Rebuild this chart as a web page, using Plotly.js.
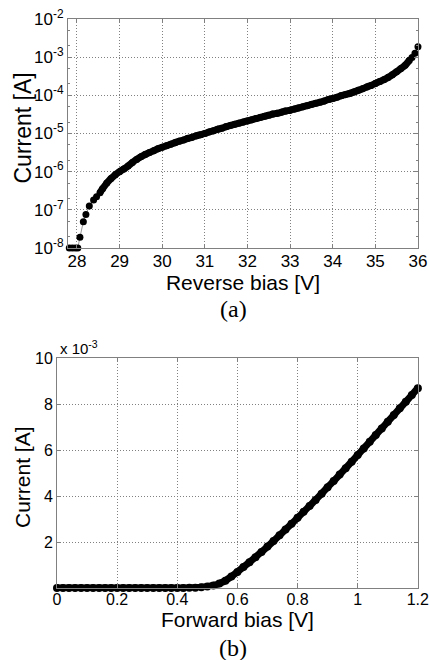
<!DOCTYPE html>
<html>
<head>
<meta charset="utf-8">
<script src="https://cdn.plot.ly/plotly-3.0.1.min.js"></script>
<style>html,body{margin:0;padding:0;background:#fff;}#chart{width:429px;height:660px;}</style>
</head>
<body>
<div id="chart"></div>
<script>
// (a) Reverse bias sweep
const reverseBias = [27.82, 27.89, 27.96, 28.02, 28.07, 28.15, 28.21, 28.29, 28.39, 28.46, 28.54,
  28.6, 28.7, 28.8, 28.9, 29.0, 29.1, 29.2, 29.3, 29.4, 29.5, 29.6, 29.7, 29.8, 29.9,
  30.0, 30.1, 30.2, 30.3, 30.4, 30.5, 30.6, 30.7, 30.8, 30.9,
  31.0, 31.1, 31.2, 31.3, 31.4, 31.5, 31.6, 31.7, 31.8, 31.9,
  32.0, 32.1, 32.2, 32.3, 32.4, 32.5, 32.6, 32.7, 32.8, 32.9,
  33.0, 33.1, 33.2, 33.3, 33.4, 33.5, 33.6, 33.7, 33.8, 33.9,
  34.0, 34.1, 34.2, 34.3, 34.4, 34.5, 34.6, 34.7, 34.8, 34.9,
  35.0, 35.1, 35.2, 35.3, 35.4, 35.5, 35.6, 35.7, 35.8, 35.86, 35.93, 36.0];
// log10 of current [A]
const reverseLog10Current = [-8, -8, -8, -8, -7.72, -7.31, -7.12, -6.90, -6.74, -6.66, -6.55,
  -6.45, -6.30, -6.18, -6.08, -6.00, -5.93, -5.85, -5.76, -5.68, -5.61, -5.55, -5.50, -5.45, -5.40,
  -5.36, -5.32, -5.28, -5.24, -5.20, -5.17, -5.13, -5.10, -5.06, -5.03,
  -5.00, -4.96, -4.93, -4.89, -4.86, -4.82, -4.79, -4.76, -4.73, -4.70,
  -4.67, -4.64, -4.61, -4.58, -4.55, -4.52, -4.49, -4.47, -4.44, -4.41,
  -4.39, -4.36, -4.33, -4.30, -4.27, -4.24, -4.21, -4.18, -4.15, -4.11,
  -4.08, -4.05, -4.01, -3.98, -3.95, -3.91, -3.87, -3.83, -3.78, -3.74,
  -3.69, -3.64, -3.59, -3.53, -3.46, -3.38, -3.30, -3.21, -3.08, -3.01, -2.90, -2.73];
const logTickVals = [1e-8, 1e-7, 1e-6, 1e-5, 1e-4, 1e-3, 1e-2];
const logTickText = ['10<sup>-8</sup>', '10<sup>-7</sup>', '10<sup>-6</sup>', '10<sup>-5</sup>', '10<sup>-4</sup>', '10<sup>-3</sup>', '10<sup>-2</sup>'];
const reverseTickVals = [28, 29, 30, 31, 32, 33, 34, 35, 36];

// (b) Forward bias sweep, current in units of 1e-3 A
const forwardBias = [0.00, 0.02, 0.04, 0.06, 0.08, 0.10, 0.12, 0.14, 0.16, 0.18, 0.20,
  0.22, 0.24, 0.26, 0.28, 0.30, 0.32, 0.34, 0.36, 0.38, 0.40,
  0.42, 0.44, 0.46, 0.48, 0.50, 0.52, 0.54, 0.56, 0.58, 0.60,
  0.62, 0.64, 0.66, 0.68, 0.70, 0.72, 0.74, 0.76, 0.78, 0.80,
  0.82, 0.84, 0.86, 0.88, 0.90, 0.92, 0.94, 0.96, 0.98, 1.00,
  1.02, 1.04, 1.06, 1.08, 1.10, 1.12, 1.14, 1.16, 1.18, 1.20];
const forwardCurrent_e3 = [0, 0, 0, 0, 0, 0, 0, 0, 0, 0, 0,
  0, 0, 0, 0, 0, 0, 0, 0, 0, 0,
  0.003, 0.006, 0.012, 0.03, 0.06, 0.11, 0.20, 0.32, 0.50, 0.70,
  0.91, 1.12, 1.34, 1.57, 1.80, 2.04, 2.29, 2.54, 2.79, 3.05,
  3.31, 3.57, 3.83, 4.10, 4.38, 4.65, 4.93, 5.21, 5.49, 5.78,
  6.07, 6.36, 6.65, 6.94, 7.23, 7.52, 7.81, 8.10, 8.39, 8.69];
const forwardTickVals = [0, 0.2, 0.4, 0.6, 0.8, 1, 1.2];
const forwardTickText = ['0', '0.2', '0.4', '0.6', '0.8', '1', '1.2'];
const linTickVals = [2, 4, 6, 8, 10];

const W = 429, H = 660;
const px = v => v / W;
const py = v => 1 - v / H;

const sans = 'Arial, "Liberation Sans", sans-serif';
const serif = '"Times New Roman", "Liberation Serif", serif';
const frame = '#808080';
const gridC = '#808080';

const revY = reverseLog10Current.map(v => Math.pow(10, v));
// dense part of the sweep, where overlapping dots merge into a solid band
const denseIdx = reverseBias.map((x, i) => i).filter(i => reverseBias[i] >= 28.5 && reverseBias[i] <= 35.8);

const traces = [
  {
    x: denseIdx.map(i => reverseBias[i]),
    y: denseIdx.map(i => revY[i]),
    xaxis: 'x', yaxis: 'y',
    mode: 'lines',
    line: {color: '#000', width: 7, shape: 'spline'},
    cliponaxis: false,
    hoverinfo: 'skip'
  },
  {
    x: reverseBias,
    y: revY,
    xaxis: 'x', yaxis: 'y',
    mode: 'lines+markers',
    line: {color: '#999', width: 1},
    marker: {color: '#000', size: 7},
    cliponaxis: false,
    hoverinfo: 'x+y'
  },
  {
    x: forwardBias,
    y: forwardCurrent_e3,
    xaxis: 'x2', yaxis: 'y2',
    mode: 'lines+markers',
    line: {color: '#000', width: 7, shape: 'spline'},
    marker: {color: '#000', size: 8},
    cliponaxis: false,
    hoverinfo: 'x+y'
  }
];

const axisCommon = {
  showline: true, linecolor: frame, linewidth: 1, mirror: 'ticks',
  ticks: 'inside', ticklen: 4, tickcolor: frame,
  showgrid: true, gridcolor: gridC, griddash: '1px,2px', gridwidth: 1,
  zeroline: false,
  ticklabeloverflow: 'allow',
  tickfont: {family: sans, size: 17, color: '#000'}
};

const layout = {
  width: W, height: H,
  margin: {l: 0, r: 0, t: 0, b: 0},
  paper_bgcolor: '#fff', plot_bgcolor: '#fff',
  showlegend: false,
  xaxis: Object.assign({}, axisCommon, {
    domain: [px(68), px(418)],
    range: [27.79, 36.001],
    tickvals: reverseTickVals,
    ticklabelstandoff: -2,
    anchor: 'y',
    title: {text: 'Reverse bias [V]', font: {family: sans, size: 21, color: '#000'}, standoff: 0}
  }),
  yaxis: Object.assign({}, axisCommon, {
    domain: [py(248), py(19)],
    type: 'log',
    range: [-8, -2],
    tickvals: logTickVals,
    ticktext: logTickText,
    minor: {ticks: 'inside', ticklen: 2, tickcolor: frame, showgrid: false},
    anchor: 'x'
  }),
  xaxis2: Object.assign({}, axisCommon, {
    domain: [px(57), px(418)],
    range: [0, 1.2005],
    tickvals: forwardTickVals,
    ticktext: forwardTickText,
    tickfont: {family: sans, size: 16, color: '#000'},
    ticklabelstandoff: -3,
    anchor: 'y2',
    title: {text: 'Forward bias [V]', font: {family: sans, size: 21, color: '#000'}, standoff: 0}
  }),
  yaxis2: Object.assign({}, axisCommon, {
    domain: [py(588), py(358)],
    range: [0, 10],
    tickvals: linTickVals,
    tickfont: {family: sans, size: 16, color: '#000'},
    anchor: 'x2'
  }),
  annotations: [
    {xref: 'paper', yref: 'paper', x: px(22.5), y: py(128), text: 'Current [A]', textangle: -90, showarrow: false,
     font: {family: sans, size: 23, color: '#000'}, xanchor: 'center', yanchor: 'middle'},
    {xref: 'paper', yref: 'paper', x: px(22), y: py(477), text: 'Current [A]', textangle: -90, showarrow: false,
     font: {family: sans, size: 21, color: '#000'}, xanchor: 'center', yanchor: 'middle'},
    {xref: 'paper', yref: 'paper', x: px(233), y: py(309), text: '(a)', showarrow: false,
     font: {family: serif, size: 24, color: '#000'}, xanchor: 'center', yanchor: 'middle'},
    {xref: 'paper', yref: 'paper', x: px(233), y: py(648), text: '(b)', showarrow: false,
     font: {family: serif, size: 24, color: '#000'}, xanchor: 'center', yanchor: 'middle'},
    {xref: 'paper', yref: 'paper', x: px(58), y: py(347), text: 'x 10<sup>-3</sup>', showarrow: false,
     font: {family: sans, size: 15, color: '#000'}, xanchor: 'left', yanchor: 'middle'}
  ]
};

Plotly.newPlot('chart', traces, layout, {staticPlot: true, displayModeBar: false});
</script>
</body>
</html>
